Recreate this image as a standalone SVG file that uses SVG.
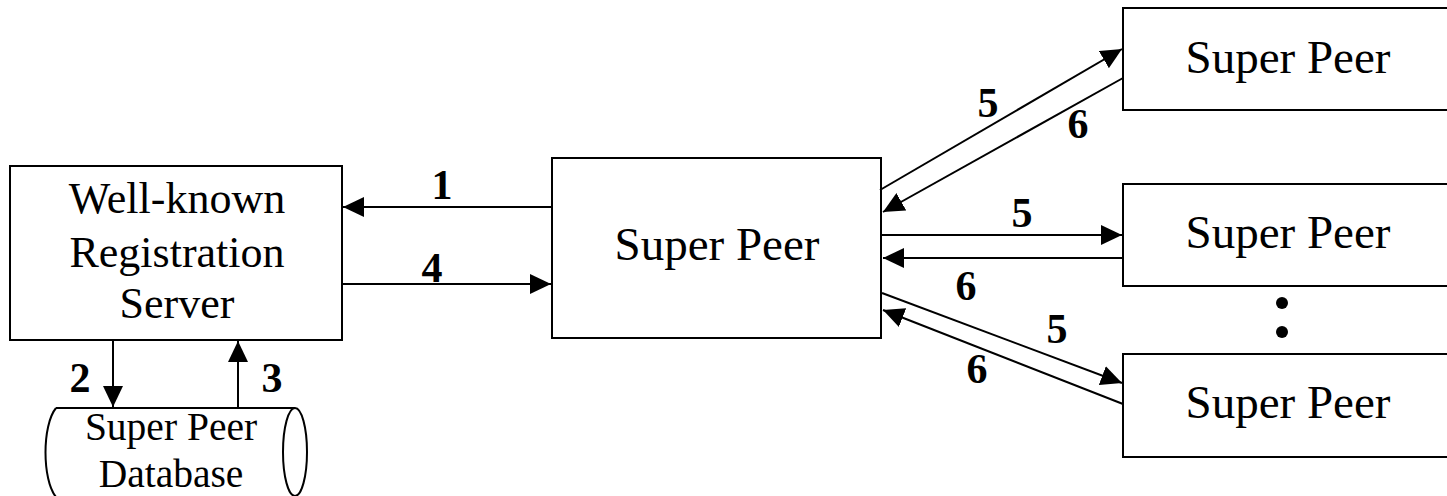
<svg xmlns="http://www.w3.org/2000/svg" width="1447" height="496" viewBox="0 0 1447 496">
  <style>
    .box { fill: #ffffff; stroke: #000000; stroke-width: 2; }
    .label { font-family: "Liberation Serif", "Times New Roman", serif; fill: #000000; text-anchor: middle; }
    .num { font-family: "Liberation Serif", "Times New Roman", serif; font-weight: bold; font-size: 42px; fill: #000000; text-anchor: middle; }
    .link { fill: none; stroke: #000000; stroke-width: 2; marker-end: url(#head); }
  </style>
  <defs>
    <marker id="head" markerUnits="userSpaceOnUse" markerWidth="22" markerHeight="20" refX="21" refY="10" orient="auto">
      <path d="M0,0 L21,10 L0,20 Z" fill="#000000"/>
    </marker>
  </defs>
  <rect width="1447" height="496" fill="#ffffff"/>

  <!-- registration server -->
  <g id="registration-server">
    <rect class="box" x="10" y="166" width="332" height="174"/>
    <text class="label" font-size="44" x="177" y="213">Well-known</text>
    <text class="label" font-size="44" x="177" y="267">Registration</text>
    <text class="label" font-size="44" x="177" y="318">Server</text>
  </g>

  <!-- database cylinder -->
  <g id="super-peer-database">
    <path d="M56,408 L295,408 M56,408 C42,425 42,480 56,497" fill="none" stroke="#000" stroke-width="2"/>
    <ellipse cx="295" cy="452" rx="12" ry="44" fill="none" stroke="#000" stroke-width="2"/>
    <text class="label" font-size="39.5" x="171" y="440">Super Peer</text>
    <text class="label" font-size="39.5" x="171" y="487">Database</text>
  </g>

  <!-- central super peer -->
  <g id="super-peer-center">
    <rect class="box" x="552" y="158" width="329" height="180"/>
    <text class="label" font-size="47" x="717" y="260">Super Peer</text>
  </g>

  <!-- remote super peers -->
  <g id="super-peer-top">
    <rect class="box" x="1123" y="8" width="340" height="102"/>
    <text class="label" font-size="47" x="1288" y="73">Super Peer</text>
  </g>
  <g id="super-peer-middle">
    <rect class="box" x="1123" y="184" width="340" height="102"/>
    <text class="label" font-size="47" x="1288" y="248">Super Peer</text>
  </g>
  <g id="ellipsis">
    <circle cx="1282" cy="303" r="6" fill="#000"/>
    <circle cx="1282" cy="332" r="6" fill="#000"/>
  </g>
  <g id="super-peer-bottom">
    <rect class="box" x="1123" y="354" width="340" height="103"/>
    <text class="label" font-size="47" x="1288" y="418">Super Peer</text>
  </g>

  <!-- message flows -->
  <g id="connectors">
    <line class="link" x1="552" y1="207" x2="343" y2="207"/>
    <line class="link" x1="342" y1="284" x2="551" y2="284"/>
    <line class="link" x1="113" y1="340" x2="113" y2="407"/>
    <line class="link" x1="238" y1="408" x2="238" y2="341"/>

    <line class="link" x1="880" y1="190" x2="1122" y2="49"/>
    <line class="link" x1="1123" y1="78" x2="883" y2="212"/>
    <line class="link" x1="882" y1="235" x2="1122" y2="235"/>
    <line class="link" x1="1123" y1="258" x2="883" y2="258"/>
    <line class="link" x1="882" y1="293" x2="1122" y2="383"/>
    <line class="link" x1="1123" y1="404" x2="883" y2="310"/>

    <text class="num" x="442" y="199">1</text>
    <text class="num" x="432" y="282">4</text>
    <text class="num" x="80" y="392">2</text>
    <text class="num" x="272" y="392">3</text>
    <text class="num" x="988" y="117">5</text>
    <text class="num" x="1078" y="138">6</text>
    <text class="num" x="1022" y="227">5</text>
    <text class="num" x="966" y="300">6</text>
    <text class="num" x="1057" y="343">5</text>
    <text class="num" x="977" y="383">6</text>
  </g>
</svg>
